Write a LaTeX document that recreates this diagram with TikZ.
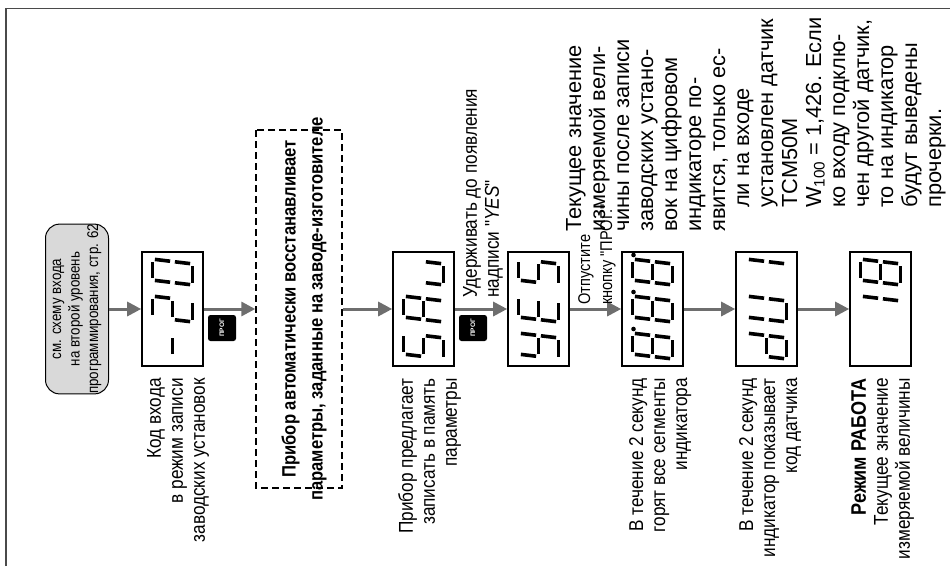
\documentclass[tikz,border=0pt]{standalone}
\usepackage{fontspec}
\setmainfont{Liberation Sans}
\newfontfamily\narrowsf[FakeStretch=0.86]{Liberation Sans}
\usetikzlibrary{arrows.meta,positioning}
\definecolor{AGrey}{HTML}{6E6E6E}
\definecolor{BoxGrey}{HTML}{D9D9D9}
\definecolor{FrameGrey}{HTML}{4A4A4A}

% segments of one indicator digit, drawn upright and turned later
\newcommand\segpa{(-8.1,20) -- (12.9,20)}
\newcommand\segpb{(12.9,20) -- (10.5,0)}
\newcommand\segpc{(10.5,0) -- (8.1,-20)}
\newcommand\segpd{(-12.9,-20) -- (8.1,-20)}
\newcommand\segpe{(-10.5,0) -- (-12.9,-20)}
\newcommand\segpf{(-8.1,20) -- (-10.5,0)}
\newcommand\segpg{(-10.5,0) -- (10.5,0)}

\newcommand\digitat[3]{%
  \begin{scope}[shift={(#1.center)},shift={(0,#2)},rotate=90]
    \foreach \sg in {#3}{%
      \expandafter\let\expandafter\segpath\csname segp\sg\endcsname
      \draw[segline] \segpath;}
  \end{scope}}
\newcommand\segdot[2]{%
  \begin{scope}[shift={(#1.center)},shift={(0,#2)},rotate=90]
    \fill (17,19) circle (2.3);
  \end{scope}}

\begin{document}
\begin{tikzpicture}[
  x=1pt,y=1pt,
  frame/.style={draw=FrameGrey,line width=1.2pt},
  refbox/.style={rotate=90,draw,line width=1pt,fill=BoxGrey,rounded corners=14pt,
    minimum width=156pt,minimum height=63pt,inner sep=0pt,align=center,
    font=\narrowsf\fontsize{15.5}{18.5}\selectfont},
  disp/.style={draw,line width=1.6pt,minimum width=61pt,minimum height=114pt,inner sep=0pt},
  resetbox/.style={rotate=90,draw,dashed,dash pattern=on 7pt off 4pt,line width=1.4pt,
    minimum width=358pt,minimum height=86pt,inner sep=0pt},
  resettext/.style={rotate=90,inner sep=0pt,align=center,
    font=\narrowsf\bfseries\fontsize{19.3}{27}\selectfont},
  progbtn/.style={rotate=90,fill=black,text=white,rounded corners=2.5pt,
    minimum width=26pt,minimum height=28pt,inner sep=0pt,
    font=\bfseries\fontsize{6.5}{7}\selectfont},
  lbl/.style={rotate=90,inner sep=0pt,font=\narrowsf\fontsize{20}{22}\selectfont},
  desc/.style={rotate=90,inner sep=0pt,align=left,font=\fontsize{21.8}{24}\selectfont},
  segline/.style={line width=3.6pt,shorten >=2.4pt,shorten <=2.4pt},
  arr/.style={-{Triangle[length=14pt,width=14pt]},line width=3pt,draw=AGrey,fill=AGrey}
]
  \useasboundingbox (0,0) rectangle (950,-566);
  \draw[frame] (6,-566) -- (6,-8.5) -- (950,-8.5);

  \node[refbox] (ref) at (77,-309) {см. схему входа\\на второй уровень\\программирования, стр. 62};
  \node[disp] (d1) at (172.5,-309) {};
  \node[resetbox] (reset) at (299,-309) {};
  \node[resettext] (resettxt) at (304,-309)
    {Прибор автоматически восстанавливает\\параметры, заданные на заводе-изготовителе};
  \node[disp] (d2) at (423.5,-309) {};
  \node[disp] (d3) at (538.5,-309) {};
  \node[disp] (d4) at (652.5,-309) {};
  \node[disp] (d5) at (766.5,-309) {};
  \node[disp] (d6) at (880.5,-309) {};

  \node[progbtn] (prog1) at (222,-328) {ПРОГ};
  \node[progbtn] (prog2) at (473,-328) {ПРОГ};

  % indicator contents
  \digitat{d1}{-37}{g}
  \digitat{d1}{0}{a,b,g,e,d}
  \digitat{d1}{37}{a,b,c,d,e,f}
  \digitat{d2}{-37}{a,f,g,c,d}
  \digitat{d2}{0}{a,b,c,e,f,g}
  \digitat{d2}{37}{c,d,e}
  \digitat{d3}{-37}{b,c,d,f,g}
  \digitat{d3}{0}{a,d,e,f,g}
  \digitat{d3}{37}{a,f,g,c,d}
  \foreach \k in {-37,0,37}{
    \digitat{d4}{\k}{a,b,c,d,e,f,g}
    \segdot{d4}{\k}}
  \digitat{d5}{-37}{b,c,d,e,g}
  \digitat{d5}{0}{b,c,d,e,f}
  \digitat{d5}{37}{b,c}
  \digitat{d6}{0}{b,c}
  \digitat{d6}{37}{a,b,c,d,e,f,g}

  \draw[arr] (ref.south) -- (d1.west);
  \draw[arr] (d1.east) -- (reset.north);
  \draw[arr] (reset.south) -- (d2.west);
  \draw[arr] (d2) -- (d3);
  \draw[arr] (d3) -- (d4);
  \draw[arr] (d4) -- (d5);
  \draw[arr] (d5) -- (d6);

  \node[lbl,anchor=north east,align=right] (lab1) at (147,-378)
    {Код входа\\в режим записи\\заводских установок};
  \node[lbl,anchor=north east,align=right] (lab2) at (398,-378)
    {Прибор предлагает\\записать в память\\параметры};
  \node[lbl,anchor=north east,align=right] (lab4) at (629,-378)
    {В течение 2 секунд\\горят все сегменты\\индикатора};
  \node[lbl,anchor=north east,align=right] (lab5) at (739,-378)
    {В течение 2 секунд\\индикатор показывает\\код датчика};
  \node[lbl,anchor=north east,align=right] (lab6) at (851,-378)
    {{\bfseries\fontsize{21}{22}\selectfont Режим РАБОТА}\\Текущее значение\\измеряемой величины};
  \node[lbl,anchor=north west,align=left] (hold) at (463,-298)
    {Удерживать до появления\\надписи "\textit{YES}"};
  \node[lbl,anchor=north west,align=left,font=\narrowsf\fontsize{17}{22}\selectfont] (release)
    at (578,-305) {Отпустите\\кнопку "ПРОГ."};

  \node[desc,anchor=north west] (descA) at (566,-232)
    {Текущее значение\\измеряемой вели-\\чины после записи\\заводских устано-\\вок на цифровом\\индикаторе по-\\явится, только ес-};
  \node[desc,anchor=north west] (descB) at (734,-208)
    {\vphantom{Т}ли на входе\\установлен датчик\\ТСМ50М\\W\textsubscript{100} = 1,426. Если\\ко входу подклю-\\чен другой датчик,\\то на индикатор\\будут выведены\\прочерки.};
\end{tikzpicture}
\end{document}
